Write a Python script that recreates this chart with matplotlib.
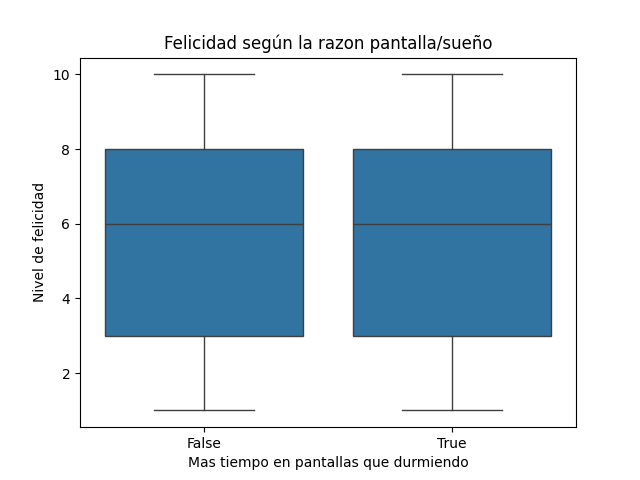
import matplotlib
matplotlib.use("Agg")
import matplotlib.pyplot as plt

# valores (resumen de cada caja)
categorias = ["False", "True"]
minimos = [1, 1]
q1 = [3, 3]
medianas = [6, 6]
q3 = [8, 8]
maximos = [10, 10]

stats = []
for i in range(len(categorias)):
    stats.append({
        "label": categorias[i],
        "whislo": minimos[i],
        "q1": q1[i],
        "med": medianas[i],
        "q3": q3[i],
        "whishi": maximos[i],
        "fliers": [],
    })

fig, ax = plt.subplots(figsize=(6.4, 4.8), dpi=100)
linea = "#3f3f3f"
ax.bxp(stats, positions=range(len(categorias)), widths=0.8, patch_artist=True,
       showfliers=False,
       boxprops=dict(facecolor="#3274a1", edgecolor=linea, linewidth=1.0),
       medianprops=dict(color=linea, linewidth=1.0),
       whiskerprops=dict(color=linea, linewidth=1.0),
       capprops=dict(color=linea, linewidth=1.0),
       capwidths=0.4)
ax.set_xlim(-0.5, len(categorias) - 0.5)
ax.set_xticks(range(len(categorias)))
ax.set_xticklabels(categorias)
ax.set_title("Felicidad según la razon pantalla/sueño")
ax.set_xlabel("Mas tiempo en pantallas que durmiendo")
ax.set_ylabel("Nivel de felicidad")
fig.savefig("out.png")
